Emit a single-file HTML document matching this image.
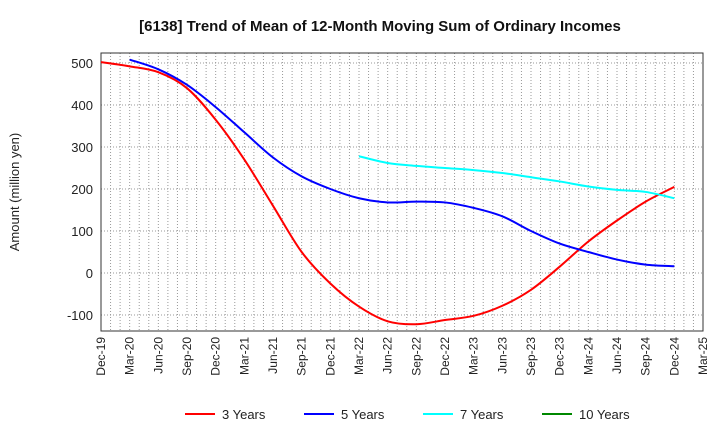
<!DOCTYPE html>
<html><head><meta charset="utf-8"><style>
body{margin:0;background:#fff;font-family:"Liberation Sans",Arial,sans-serif}
svg text{font-family:"Liberation Sans",Arial,sans-serif}
</style></head><body>
<svg id="c" width="720" height="440">
<text x="380" y="31" text-anchor="middle" font-size="15" font-weight="bold" fill="#111">[6138]  Trend of Mean of 12-Month Moving Sum of Ordinary Incomes</text>
<text transform="translate(19,192) rotate(-90)" text-anchor="middle" font-size="13" fill="#222">Amount (million yen)</text>
<g id="grid"></g><g id="ax"></g><g id="series"></g><g id="legend"></g>
</svg>
<script>
const xLabels=["Dec-19","Mar-20","Jun-20","Sep-20","Dec-20","Mar-21","Jun-21","Sep-21","Dec-21","Mar-22","Jun-22","Sep-22","Dec-22","Mar-23","Jun-23","Sep-23","Dec-23","Mar-24","Jun-24","Sep-24","Dec-24","Mar-25"];
const yTicks=[-100,0,100,200,300,400,500];
const s3=[502,492,478,440,365,270,160,50,-25,-80,-115,-122,-112,-102,-78,-40,15,75,125,170,205];
const s5=[null,508,485,448,395,335,275,230,200,178,168,170,168,155,135,100,70,50,32,20,16];
const s7=[null,null,null,null,null,null,null,null,null,278,262,255,250,245,238,228,218,206,198,193,178];
const s10=[];
const L=101,R=703,T=53,B=331;
const X=i=>L+i*(R-L)/21;
const Y=v=>273-v*0.42;
const NS="http://www.w3.org/2000/svg";
function mk(p,t,a){const e=document.createElementNS(NS,t);for(const k in a)e.setAttribute(k,a[k]);p.appendChild(e);return e;}
const grid=document.getElementById('grid'),ax=document.getElementById('ax');
for(let m=1;m<63;m++){const x=L+m*(R-L)/63;const g=mk(grid,'line',{x1:x,x2:x,y1:T,y2:B,stroke:'#999','stroke-dasharray':'1,2','stroke-width':1});

}
yTicks.forEach(v=>{const g=mk(grid,'line',{x1:L,x2:R,y1:Y(v),y2:Y(v),stroke:'#999','stroke-dasharray':'1,2'});


const t=mk(ax,'text',{x:L-8,y:Y(v)+5,'text-anchor':'end','font-size':13,fill:'#222'});t.textContent=v;

});
const fr=mk(ax,'rect',{x:L,y:T,width:R-L,height:B-T,fill:'none',stroke:'#333'});


xLabels.forEach((l,i)=>{const x=X(i);const t=mk(ax,'text',{transform:`translate(${x+4},${B+6}) rotate(-90)`,'text-anchor':'end','font-size':12,fill:'#222'});t.textContent=l;

});
function path(arr){const p=[];arr.forEach((v,i)=>{if(v!=null)p.push([X(i),Y(v)])});if(p.length<2)return '';
let d=`M${p[0][0]},${p[0][1]}`;for(let i=0;i<p.length-1;i++){const p0=p[i-1]||p[i],p1=p[i],p2=p[i+1],p3=p[i+2]||p2;
d+=` C${p1[0]+(p2[0]-p0[0])/6},${p1[1]+(p2[1]-p0[1])/6} ${p2[0]-(p3[0]-p1[0])/6},${p2[1]-(p3[1]-p1[1])/6} ${p2[0]},${p2[1]}`;}return d;}
const sg=document.getElementById('series');
[[s3,'#f00','series-3-years'],[s5,'#00f','series-5-years'],[s7,'#0ff','series-7-years'],[s10,'#080','series-10-years']].forEach(([a,c,n])=>{const d=path(a);if(!d)return;const e=mk(sg,'path',{d,fill:'none',stroke:c,'stroke-width':2});

});
const lg=document.getElementById('legend');
[['3 Years','#f00',185],['5 Years','#00f',304],['7 Years','#0ff',423],['10 Years','#080',542]].forEach(([t,c,x])=>{
const g=mk(lg,'g',{});


mk(g,'line',{x1:x,x2:x+30,y1:414,y2:414,stroke:c,'stroke-width':2});
const tx=mk(g,'text',{x:x+37,y:419,'font-size':13,fill:'#222'});tx.textContent=t;});
</script>
</body></html>
